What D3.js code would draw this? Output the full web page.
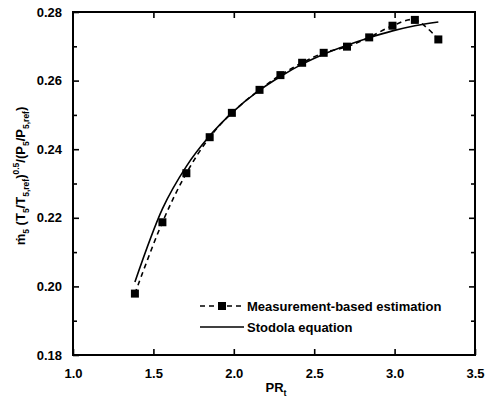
<!DOCTYPE html>
<html>
<head>
<meta charset="utf-8">
<script src="https://cdn.jsdelivr.net/npm/d3@7"></script>
<style>
  html, body { margin: 0; padding: 0; background: #fff; }
  svg { display: block; font-family: "Liberation Sans", Arial, Helvetica, sans-serif; }
</style>
</head>
<body>
<svg id="chart" width="486" height="405"></svg>
<script>
// Turbine pressure ratio PR_t
const prValues = [1.385, 1.556, 1.705, 1.850, 1.988, 2.160, 2.290, 2.425, 2.559, 2.704, 2.842, 2.987, 3.126, 3.272];
// Corrected mass flow, measurement-based estimation (squares, dashed)
const measured = [0.1979, 0.2187, 0.2330, 0.2435, 0.2506, 0.2573, 0.2616, 0.2652, 0.2681, 0.2699, 0.2726, 0.2760, 0.2777, 0.2720];
// Corrected mass flow, Stodola equation (solid)
const stodola = [0.2013, 0.2226, 0.2350, 0.2439, 0.2506, 0.2572, 0.2612, 0.2648, 0.2677, 0.2703, 0.2725, 0.2745, 0.2760, 0.2771];

const xTicks = [1.0, 1.5, 2.0, 2.5, 3.0, 3.5];
const yTicks = [0.18, 0.20, 0.22, 0.24, 0.26, 0.28];
const yMinorTicks = [0.19, 0.21, 0.23, 0.25, 0.27];
const legendLabels = ["Measurement-based estimation", "Stodola equation"];

const svg = d3.select("#chart");
const plotL = 73, plotR = 475, plotT = 12, plotB = 355;

const x = d3.scaleLinear().domain([1.0, 3.5]).range([plotL, plotR]);
const y = d3.scaleLinear().domain([0.18, 0.28]).range([plotB, plotT]);

const ink = "#000";
const fmt = d3.format(".1f");
const fmtY = d3.format(".2f");

// Bottom axis: ticks point inward, labels below
svg.append("g").attr("transform", `translate(0,${plotB})`)
  .call(d3.axisBottom(x).tickValues(xTicks).tickSize(-6).tickPadding(14).tickFormat(fmt));
// Top axis: ticks only
svg.append("g").attr("transform", `translate(0,${plotT})`)
  .call(d3.axisTop(x).tickValues(xTicks.slice(1, -1)).tickSize(-6).tickFormat(""));
// Left axis: major and minor ticks inward
svg.append("g").attr("transform", `translate(${plotL},0)`)
  .call(d3.axisLeft(y).tickValues(yTicks).tickSize(-6).tickPadding(11).tickFormat(fmtY));
svg.append("g").attr("transform", `translate(${plotL},0)`)
  .call(d3.axisLeft(y).tickValues(yMinorTicks).tickSize(-4).tickFormat(""));
// Right axis
svg.append("g").attr("transform", `translate(${plotR},0)`)
  .call(d3.axisRight(y).tickValues(yTicks.slice(1, -1)).tickSize(-6).tickFormat(""));
svg.append("g").attr("transform", `translate(${plotR},0)`)
  .call(d3.axisRight(y).tickValues(yMinorTicks).tickSize(-4).tickFormat(""));

svg.selectAll(".domain").remove();
svg.selectAll(".tick line").attr("stroke", ink).attr("stroke-width", 1.6);
svg.selectAll(".tick text").attr("fill", ink).attr("font-size", 13).attr("font-weight", "bold")
  .attr("font-family", "Liberation Sans, Arial, sans-serif");

// Frame
svg.append("rect")
  .attr("x", plotL).attr("y", plotT)
  .attr("width", plotR - plotL).attr("height", plotB - plotT)
  .attr("fill", "none").attr("stroke", ink).attr("stroke-width", 2);

// Stodola equation (solid line)
const solid = prValues.map((p, i) => [p, stodola[i]]);
svg.append("path")
  .datum(solid)
  .attr("fill", "none").attr("stroke", ink).attr("stroke-width", 1.6)
  .attr("d", d3.line().x(d => x(d[0])).y(d => y(d[1])).curve(d3.curveMonotoneX));

// Measurement-based estimation (dashed line + squares)
const meas = prValues.map((p, i) => [p, measured[i]]);
svg.append("path")
  .datum(meas)
  .attr("fill", "none").attr("stroke", ink).attr("stroke-width", 1.6)
  .attr("stroke-dasharray", "5,4")
  .attr("d", d3.line().x(d => x(d[0])).y(d => y(d[1])).curve(d3.curveCatmullRom));

const sq = 8;
svg.append("g").selectAll("rect")
  .data(meas).join("rect")
  .attr("x", d => x(d[0]) - sq / 2).attr("y", d => y(d[1]) - sq / 2)
  .attr("width", sq).attr("height", sq).attr("fill", ink);

// Legend
const lg = svg.append("g").attr("font-size", 13).attr("font-weight", "bold").attr("fill", ink);
const ly1 = 306, ly2 = 327, lx0 = 200, lx1 = 244;
lg.append("line").attr("x1", lx0).attr("x2", lx1).attr("y1", ly1).attr("y2", ly1)
  .attr("stroke", ink).attr("stroke-width", 1.6).attr("stroke-dasharray", "5,4");
lg.append("rect").attr("x", (lx0 + lx1) / 2 - sq / 2).attr("y", ly1 - sq / 2)
  .attr("width", sq).attr("height", sq).attr("fill", ink);
lg.append("text").attr("x", lx1 + 3).attr("y", ly1 + 4.5).text(legendLabels[0]);
lg.append("line").attr("x1", lx0).attr("x2", lx1).attr("y1", ly2).attr("y2", ly2)
  .attr("stroke", ink).attr("stroke-width", 1.6);
lg.append("text").attr("x", lx1 + 3).attr("y", ly2 + 4.5).text(legendLabels[1]);

// X axis title: PR_t
const xt = svg.append("text").attr("x", 276).attr("y", 392)
  .attr("text-anchor", "middle").attr("font-size", 13).attr("font-weight", "bold").attr("fill", ink);
xt.append("tspan").text("PR");
xt.append("tspan").attr("font-size", 9).attr("dy", 4).text("t");

// Y axis title: corrected mass flow
const yt = svg.append("text")
  .attr("transform", "translate(25,176) rotate(-90)")
  .attr("text-anchor", "middle").attr("font-size", 13).attr("font-weight", "bold").attr("fill", ink);
const parts = [
  ["ṁ", 0], ["5", 1], [" (T", 0], ["5", 1], ["/T", 0], ["5,ref", 1], [")", 0],
  ["0.5", 2], ["/(P", 0], ["5", 1], ["/P", 0], ["5,ref", 1], [")", 0]
];
let shift = 0;
parts.forEach(([t, kind]) => {
  const target = kind === 1 ? 4 : kind === 2 ? -6 : 0;
  yt.append("tspan")
    .attr("dy", target - shift)
    .attr("font-size", kind === 0 ? 13 : 8.5)
    .text(t);
  shift = target;
});
</script>
</body>
</html>
